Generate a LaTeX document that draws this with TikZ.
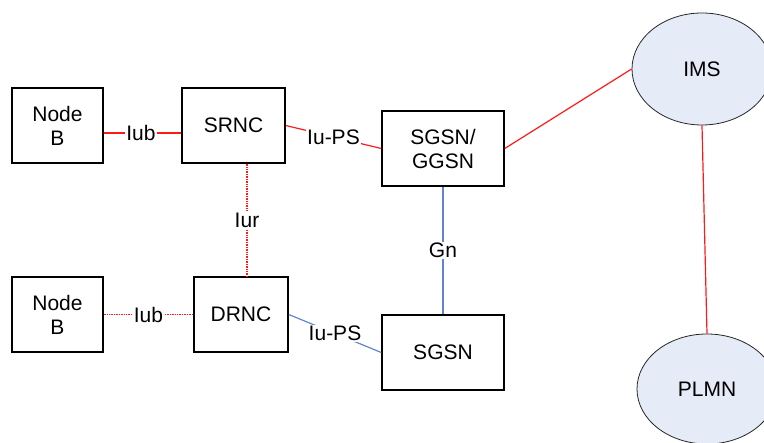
\documentclass[tikz,border=0pt]{standalone}
\usepackage{fontspec}
\setmainfont{Liberation Sans}
\usetikzlibrary{shapes.geometric}
\definecolor{ellfill}{HTML}{E6ECF7}
\definecolor{linkred}{HTML}{FF1A1A}
\definecolor{linkblue}{HTML}{5F86CC}
\tikzset{
  box/.style={draw=black, line width=1.5pt, fill=white, align=center, inner sep=0pt,
    font=\fontsize{21}{24}\selectfont},
  ell/.style={draw=black!85, line width=0.8pt, fill=ellfill, ellipse, inner sep=0pt,
    font=\fontsize{21}{24}\selectfont},
  redlink/.style={draw=linkred, line width=1.2pt},
  reddot/.style={draw=linkred, line width=1.2pt, dash pattern=on 1pt off 0.7pt},
  bluelink/.style={draw=linkblue, line width=1.2pt},
  lbl/.style={fill=white, inner sep=1.5pt, font=\fontsize{21}{24}\selectfont, text=black}
}
\begin{document}
\begin{tikzpicture}[x=1pt,y=-1pt]
\useasboundingbox (0,0) rectangle (764,443);
\node[box, minimum width=91pt, minimum height=75pt] (nb1) at (57.5,125.5) {Node\\B};
\node[box, minimum width=103pt, minimum height=75pt] (srnc) at (233.5,125.5) {SRNC};
\node[box, minimum width=122pt, minimum height=75pt] (ggsn) at (443,148.5) {SGSN/\\GGSN};
\node[box, minimum width=91pt, minimum height=75pt] (nb2) at (57.5,314.5) {Node\\B};
\node[box, minimum width=94pt, minimum height=75pt] (drnc) at (241,314.5) {DRNC};
\node[box, minimum width=122pt, minimum height=75pt] (sgsn) at (443,352.5) {SGSN};
\node[ell, minimum width=140pt, minimum height=112pt] (ims) at (702,69) {IMS};
\node[ell, minimum width=140pt, minimum height=110pt] (plmn) at (707,389) {PLMN};

\draw[redlink] ([yshift=-7.5pt]nb1.east) -- node[lbl, pos=0.48] (l1) {Iub} ([yshift=-7.5pt]srnc.west);
\draw[redlink] (srnc.east) -- node[lbl] (l2) {Iu-PS} (ggsn.west);
\draw[reddot] ([xshift=13.5pt]srnc.south) -- node[lbl] (l3) {Iur} ([xshift=6pt]drnc.north);
\draw[reddot] (nb2.east) -- node[lbl] (l4) {Iub} (drnc.west);
\draw[bluelink] (drnc.east) -- node[lbl] (l5) {Iu-PS} (sgsn.west);
\draw[bluelink] (ggsn.south) -- node[lbl] (l6) {Gn} (sgsn.north);
\draw[redlink] (ggsn.east) -- (ims.west);
\draw[redlink] (ims.south) -- (plmn.north);
\end{tikzpicture}
\end{document}
